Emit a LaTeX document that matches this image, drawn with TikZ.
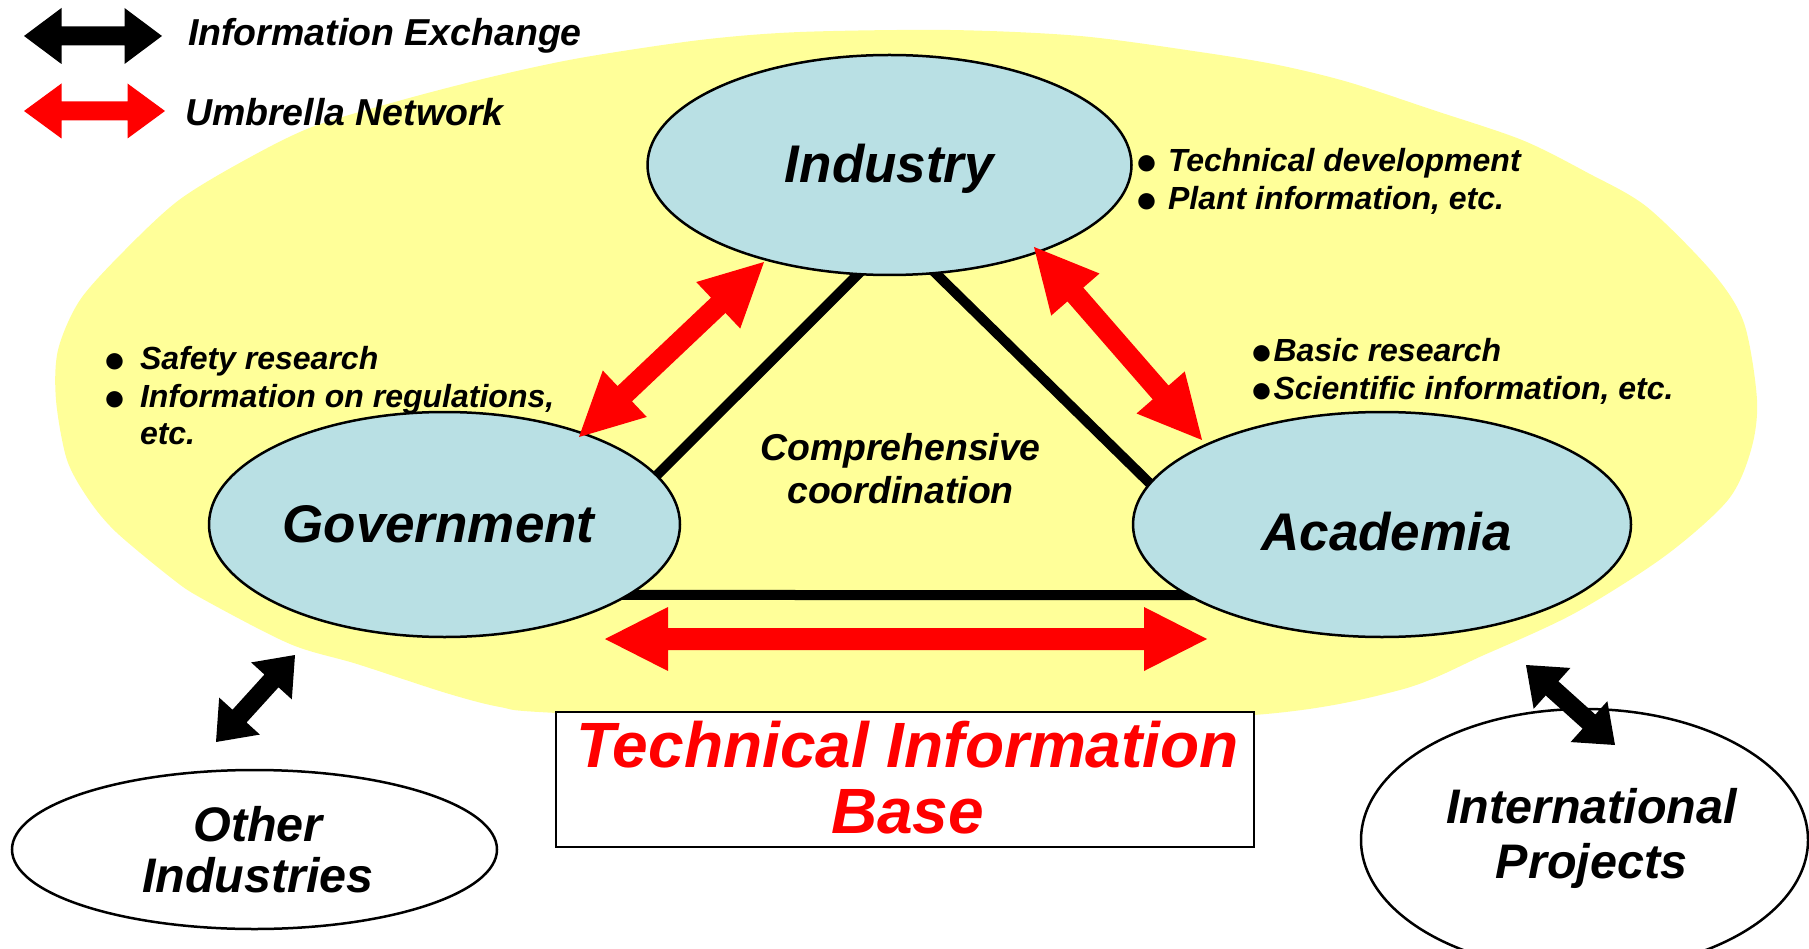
\documentclass[tikz,border=0pt]{standalone}
\usepackage{fontspec}
\setmainfont{Liberation Sans}
\usetikzlibrary{calc,shapes.geometric}
\definecolor{blobyellow}{HTML}{FFFF99}
\definecolor{actorblue}{HTML}{B9E0E4}
\definecolor{arrowred}{HTML}{FF0000}
\pgfdeclarelayer{bglayer}
\pgfdeclarelayer{midlayer}
\pgfsetlayers{bglayer,midlayer,main}
\newcommand{\bul}[1]{\makebox[#1][l]{\smash{\raisebox{-3pt}{\fontsize{38}{38}\selectfont\upshape ●}}}}
\newcommand{\lowered}[2]{\raisebox{-#1}[\height][\depth]{#2}}
% #1 style, #2 tip A, #3 tip B, #4 shaft half width, #5 head half width, #6 head length
\newcommand{\blockarrow}[6]{%
  \coordinate (baA) at ($(#2)!#6!(#3)$);
  \coordinate (baB) at ($(#3)!#6!(#2)$);
  \fill[#1] (#2) -- ($(baA)!#5!90:(#3)$) -- ($(baA)!#4!90:(#3)$)
    -- ($(baB)!#4!-90:(#2)$) -- ($(baB)!#5!-90:(#2)$) -- (#3)
    -- ($(baB)!#5!90:(#2)$) -- ($(baB)!#4!90:(#2)$)
    -- ($(baA)!#4!-90:(#3)$) -- ($(baA)!#5!-90:(#3)$) -- cycle;
}
\begin{document}
\begin{tikzpicture}[x=1pt,y=-1pt,
  txt/.style={inner sep=0pt, outer sep=0pt},
  legendtxt/.style={txt, anchor=base west, font=\fontsize{37.5}{44}\selectfont\bfseries\itshape},
  actor/.style={ellipse, draw=black, line width=2.5pt, fill=actorblue, inner sep=0pt, outer sep=0pt,
    font=\fontsize{53}{58}\selectfont\bfseries\itshape},
  partner/.style={ellipse, draw=black, line width=2.5pt, fill=white, inner sep=0pt, outer sep=0pt,
    align=center, font=\fontsize{48.5}{51}\selectfont\bfseries\itshape},
  tieline/.style={line width=10pt, draw=black, shorten <=-8pt, shorten >=-8pt},
  umbrella/.style={fill=arrowred},
  exchange/.style={fill=black},
  basebox/.style={rectangle, draw=black, line width=2.5pt, fill=white, inner sep=0pt, outer sep=0pt,
    align=center, text=arrowred, font=\fontsize{64}{66}\selectfont\bfseries\itshape},
  bullets/.style={txt, align=left, anchor=west, font=\fontsize{32}{37.5}\selectfont\bfseries\itshape},
]
\useasboundingbox (0,0) rectangle (1809,949);

% yellow umbrella area
\begin{pgfonlayer}{bglayer}
\fill[blobyellow] plot[smooth cycle, tension=0.5] coordinates {
  (56,400) (58,350) (80,300) (125,250) (179,200) (245,160) (312,127) (402,100)
  (491,77) (580,58) (700,40) (800,32) (950,30) (1080,36) (1200,52) (1278,65)
  (1348,82) (1433,110) (1522,140) (1588,173) (1647,207) (1713,273) (1744,323)
  (1757,400) (1751,450) (1728,500) (1665,556) (1575,613) (1484,655) (1400,690)
  (1254,715) (900,728) (557,713) (500,707) (446,693) (357,664) (290,644)
  (201,598) (170,577) (116,532) (89,500) (67,460)};
\end{pgfonlayer}

% main actors
\node[actor, minimum width=484pt, minimum height=220pt] (ind) at (889.5,165) {\lowered{3.5pt}{Industry}};
\node[actor, minimum width=471pt, minimum height=225pt] (gov) at (444.5,524.5) {\hspace*{-12pt}Government};
\node[actor, minimum width=498pt, minimum height=225pt] (acad) at (1382,524.5) {\hspace*{9pt}\lowered{7pt}{Academia}};

% outside partners
\node[partner, minimum width=485pt, minimum height=159pt] (oth) at (254.5,849.5)
  {\hspace*{7pt}Other\\\hspace*{7pt}Industries};
\node[partner, minimum width=447pt, minimum height=262pt, font=\fontsize{48.5}{55}\selectfont\bfseries\itshape]
  (intl) at (1584.5,840) {\hspace*{14pt}\lowered{-2pt}{International}\\\hspace*{14pt}\lowered{-2pt}{Projects}};

% technical information base
\node[basebox, minimum width=698pt, minimum height=135pt] (tib) at (905,779.5)
  {\hspace*{5pt}\lowered{-1.5pt}{Technical Information}\\\hspace*{5pt}\lowered{-1.5pt}{Base}};

% triangle of coordination
\begin{pgfonlayer}{midlayer}
\draw[tieline] (gov.13.6) -- (ind.254);
\draw[tieline] (ind.293.4) -- (acad.170.8);
\draw[tieline] (gov.339.9) -- (acad.200.1);
\end{pgfonlayer}

\node[txt, align=center, font=\fontsize{37.4}{43}\selectfont\bfseries\itshape] (coord) at (900.5,468.5)
  {Comprehensive\\coordination};

% bullet lists
\node[bullets, font=\fontsize{32}{38}\selectfont\bfseries\itshape] (indlist) at (1135,181)
  {\bul{33pt}Technical development\\\bul{33pt}Plant information, etc.};
\node[bullets] (govlist) at (103,396)
  {\bul{37pt}Safety research\\\bul{37pt}Information on regulations,\\\hspace*{37pt}etc.};
\node[bullets] (acadlist) at (1250,371.5)
  {\bul{23.5pt}Basic research\\\bul{23.5pt}Scientific information, etc.};

% umbrella network arrows
\coordinate (gi1) at (579,437);
\coordinate (gi2) at (764,262);
\coordinate (ia1) at (1034,247);
\coordinate (ia2) at (1202,440);
\coordinate (ga1) at (605,639);
\coordinate (ga2) at (1207,639);
\blockarrow{umbrella}{gi1}{gi2}{10.5pt}{32pt}{63pt}
\blockarrow{umbrella}{ia1}{ia2}{10.5pt}{32pt}{63pt}
\blockarrow{umbrella}{ga1}{ga2}{11pt}{32pt}{63pt}

% information exchange arrows
\coordinate (ox1) at (216,742);
\coordinate (ox2) at (295,655);
\coordinate (ix1) at (1526,665);
\coordinate (ix2) at (1615,745);
\blockarrow{exchange}{ox1}{ox2}{9.5pt}{27.5pt}{35pt}
\blockarrow{exchange}{ix1}{ix2}{9.5pt}{27.5pt}{35pt}

% legend
\coordinate (lb1) at (24,36);
\coordinate (lb2) at (162,36);
\coordinate (lr1) at (24,111);
\coordinate (lr2) at (165,111);
\blockarrow{exchange}{lb1}{lb2}{9.5pt}{28pt}{37.5pt}
\blockarrow{umbrella}{lr1}{lr2}{9.5pt}{27.5pt}{37.5pt}
\node[legendtxt] (lgx) at (188,46) {Information Exchange};
\node[legendtxt] (lgu) at (185,126) {Umbrella Network};
\end{tikzpicture}
\end{document}
